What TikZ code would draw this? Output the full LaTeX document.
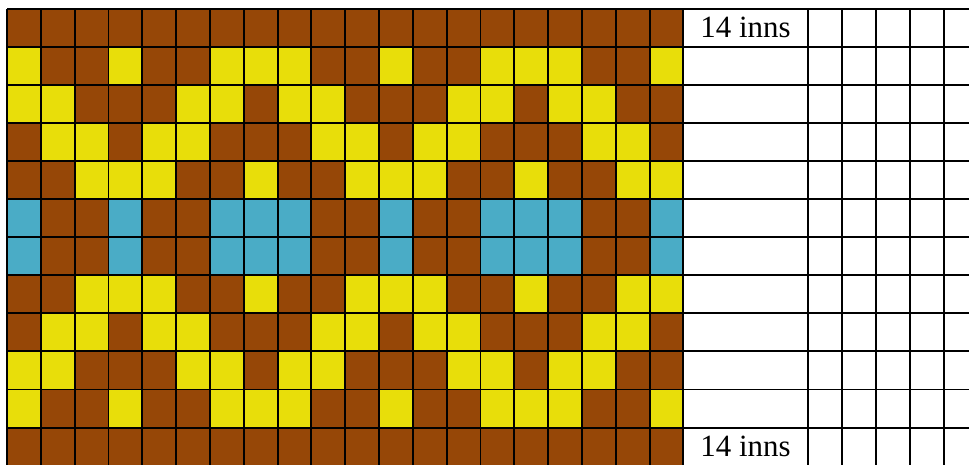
\documentclass[tikz,border=0pt]{standalone}
\usepackage{fontspec}
\setmainfont{Liberation Serif}
\definecolor{colB}{HTML}{964707}
\definecolor{colY}{HTML}{E8DE0A}
\definecolor{colC}{HTML}{4AACC6}
\tikzset{gridline/.style={line width=1.9pt, black},
  label/.style={inner sep=0pt, anchor=base, font=\fontsize{30.9}{36}\selectfont}}
\begin{document}
\begin{tikzpicture}[x=1pt,y=-1pt]
\useasboundingbox (0,0) rectangle (969,465);
\clip (0,0) rectangle (969,465);
\fill[white] (0,0) rectangle (969,465);
\def\cw{33.82}
\def\rh{38.08}
\foreach \row [count=\r from 0] in {
 {B,B,B,B,B,B,B,B,B,B,B,B,B,B,B,B,B,B,B,B},
 {Y,B,B,Y,B,B,Y,Y,Y,B,B,Y,B,B,Y,Y,Y,B,B,Y},
 {Y,Y,B,B,B,Y,Y,B,Y,Y,B,B,B,Y,Y,B,Y,Y,B,B},
 {B,Y,Y,B,Y,Y,B,B,B,Y,Y,B,Y,Y,B,B,B,Y,Y,B},
 {B,B,Y,Y,Y,B,B,Y,B,B,Y,Y,Y,B,B,Y,B,B,Y,Y},
 {C,B,B,C,B,B,C,C,C,B,B,C,B,B,C,C,C,B,B,C},
 {C,B,B,C,B,B,C,C,C,B,B,C,B,B,C,C,C,B,B,C},
 {B,B,Y,Y,Y,B,B,Y,B,B,Y,Y,Y,B,B,Y,B,B,Y,Y},
 {B,Y,Y,B,Y,Y,B,B,B,Y,Y,B,Y,Y,B,B,B,Y,Y,B},
 {Y,Y,B,B,B,Y,Y,B,Y,Y,B,B,B,Y,Y,B,Y,Y,B,B},
 {Y,B,B,Y,B,B,Y,Y,Y,B,B,Y,B,B,Y,Y,Y,B,B,Y},
 {B,B,B,B,B,B,B,B,B,B,B,B,B,B,B,B,B,B,B,B}}
{
  \foreach \c [count=\k from 0] in \row {
    \fill[fill=col\c] ({7+\k*\cw},{8.7+\r*\rh}) rectangle ++(\cw,\rh);
  }
}
% horizontal lines
\foreach \r in {0,...,12}
  \draw[gridline] (7,{8.7+\r*\rh}) -- (990,{8.7+\r*\rh});
% vertical lines of coloured part
\foreach \k in {0,...,20}
  \draw[gridline] ({7+\k*\cw},8.7) -- ({7+\k*\cw},{8.7+12*\rh});
% vertical lines of narrow columns
\foreach \m in {0,...,5}
  \draw[gridline] ({807.7+\m*34.07},8.7) -- ({807.7+\m*34.07},{8.7+12*\rh});
\node[label] (t1) at (745.5,37.3) {14 inns};
\node[label] (t2) at (745.5,456.3) {14 inns};
\end{tikzpicture}
\end{document}
